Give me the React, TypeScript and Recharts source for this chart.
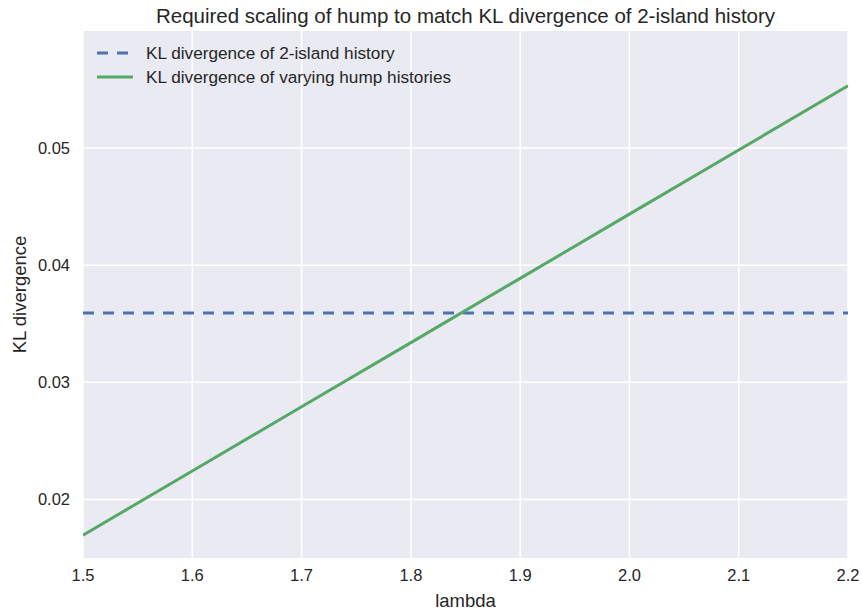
import React from "react";
import { LineChart, Line, XAxis, YAxis, CartesianGrid } from "recharts";

const lambdas = [1.5, 1.6, 1.7, 1.8, 1.9, 2.0, 2.1, 2.2];
const humpKL = [0.01695, 0.02243, 0.02791, 0.03339, 0.03888, 0.04436, 0.04984, 0.05532];
const islandKL = 0.03593;
const xTicks = [1.5, 1.6, 1.7, 1.8, 1.9, 2.0, 2.1, 2.2];
const yTicks = [0.02, 0.03, 0.04, 0.05];

const BLUE = "#4C72B0";
const GREEN = "#55A868";
const FONT = "'Liberation Sans', Arial, sans-serif";
const TEXT = "#262626";

const data = lambdas.map((x, i) => ({ x, hump: humpKL[i], island: islandKL }));

const legendItems = [
  { label: "KL divergence of 2-island history", color: BLUE, dashed: true },
  { label: "KL divergence of varying hump histories", color: GREEN, dashed: false },
];

const YLabel = (props: any) => {
  const vb = props.viewBox || {};
  const cx = 19;
  const cy = (vb.y || 0) + (vb.height || 0) / 2;
  return (
    <text
      x={cx}
      y={cy}
      transform={`rotate(-90 ${cx} ${cy})`}
      textAnchor="middle"
      dominantBaseline="central"
      fontSize={18.5}
      fill={TEXT}
      fontFamily={FONT}
    >
      KL divergence
    </text>
  );
};

export default function App() {
  return (
    <div style={{ position: "absolute", left: 0, top: 0, width: 862, height: 613, background: "#fff" }}>
      <LineChart
        width={862}
        height={613}
        data={data}
        margin={{ top: 31, right: 14, bottom: 0, left: 0 }}
        style={{ fontFamily: FONT }}
      >
        <CartesianGrid
          stroke="#ffffff"
          strokeWidth={1.5}
          fill="#EAEAF2"
          fillOpacity={1}
          verticalValues={xTicks}
          horizontalValues={yTicks}
        />
        <XAxis
          dataKey="x"
          type="number"
          domain={[1.5, 2.2]}
          ticks={xTicks}
          tickFormatter={(v: number) => v.toFixed(1)}
          axisLine={false}
          tickLine={false}
          tickSize={0}
          tickMargin={11}
          height={55}
          tick={{ fontSize: 16.5, fill: TEXT, fontFamily: FONT }}
          allowDataOverflow
          label={{ value: "lambda", position: "insideBottom", offset: 6, fontSize: 18.5, fill: TEXT, fontFamily: FONT }}
        />
        <YAxis
          type="number"
          domain={[0.015, 0.06]}
          ticks={yTicks}
          tickFormatter={(v: number) => v.toFixed(2)}
          axisLine={false}
          tickLine={false}
          tickSize={0}
          tickMargin={13}
          width={83}
          tick={{ fontSize: 16.5, fill: TEXT, fontFamily: FONT }}
          allowDataOverflow
          label={<YLabel />}
        />
        <Line
          dataKey="island"
          stroke={BLUE}
          strokeWidth={3}
          strokeDasharray="11 9"
          dot={false}
          activeDot={false}
          isAnimationActive={false}
          legendType="none"
        />
        <Line
          dataKey="hump"
          stroke={GREEN}
          strokeWidth={3}
          dot={false}
          activeDot={false}
          isAnimationActive={false}
          legendType="none"
        />
      </LineChart>
      <div
        style={{
          position: "absolute",
          left: 83,
          width: 765,
          top: 3,
          textAlign: "center",
          fontFamily: FONT,
          fontSize: 20.5,
          color: TEXT,
          lineHeight: "26px",
          whiteSpace: "nowrap",
        }}
      >
        Required scaling of hump to match KL divergence of 2-island history
      </div>
      <svg
        width={420}
        height={52}
        style={{ position: "absolute", left: 95, top: 41, display: "block" }}
      >
        {legendItems.map((it, i) => (
          <g key={i}>
            <line
              x1={2}
              x2={38}
              y1={12 + i * 24}
              y2={12 + i * 24}
              stroke={it.color}
              strokeWidth={3}
              strokeDasharray={it.dashed ? "11 9" : undefined}
            />
            <text x={51} y={12 + i * 24} dy="0.35em" fontSize={17.2} fill={TEXT} fontFamily={FONT}>
              {it.label}
            </text>
          </g>
        ))}
      </svg>
    </div>
  );
}
